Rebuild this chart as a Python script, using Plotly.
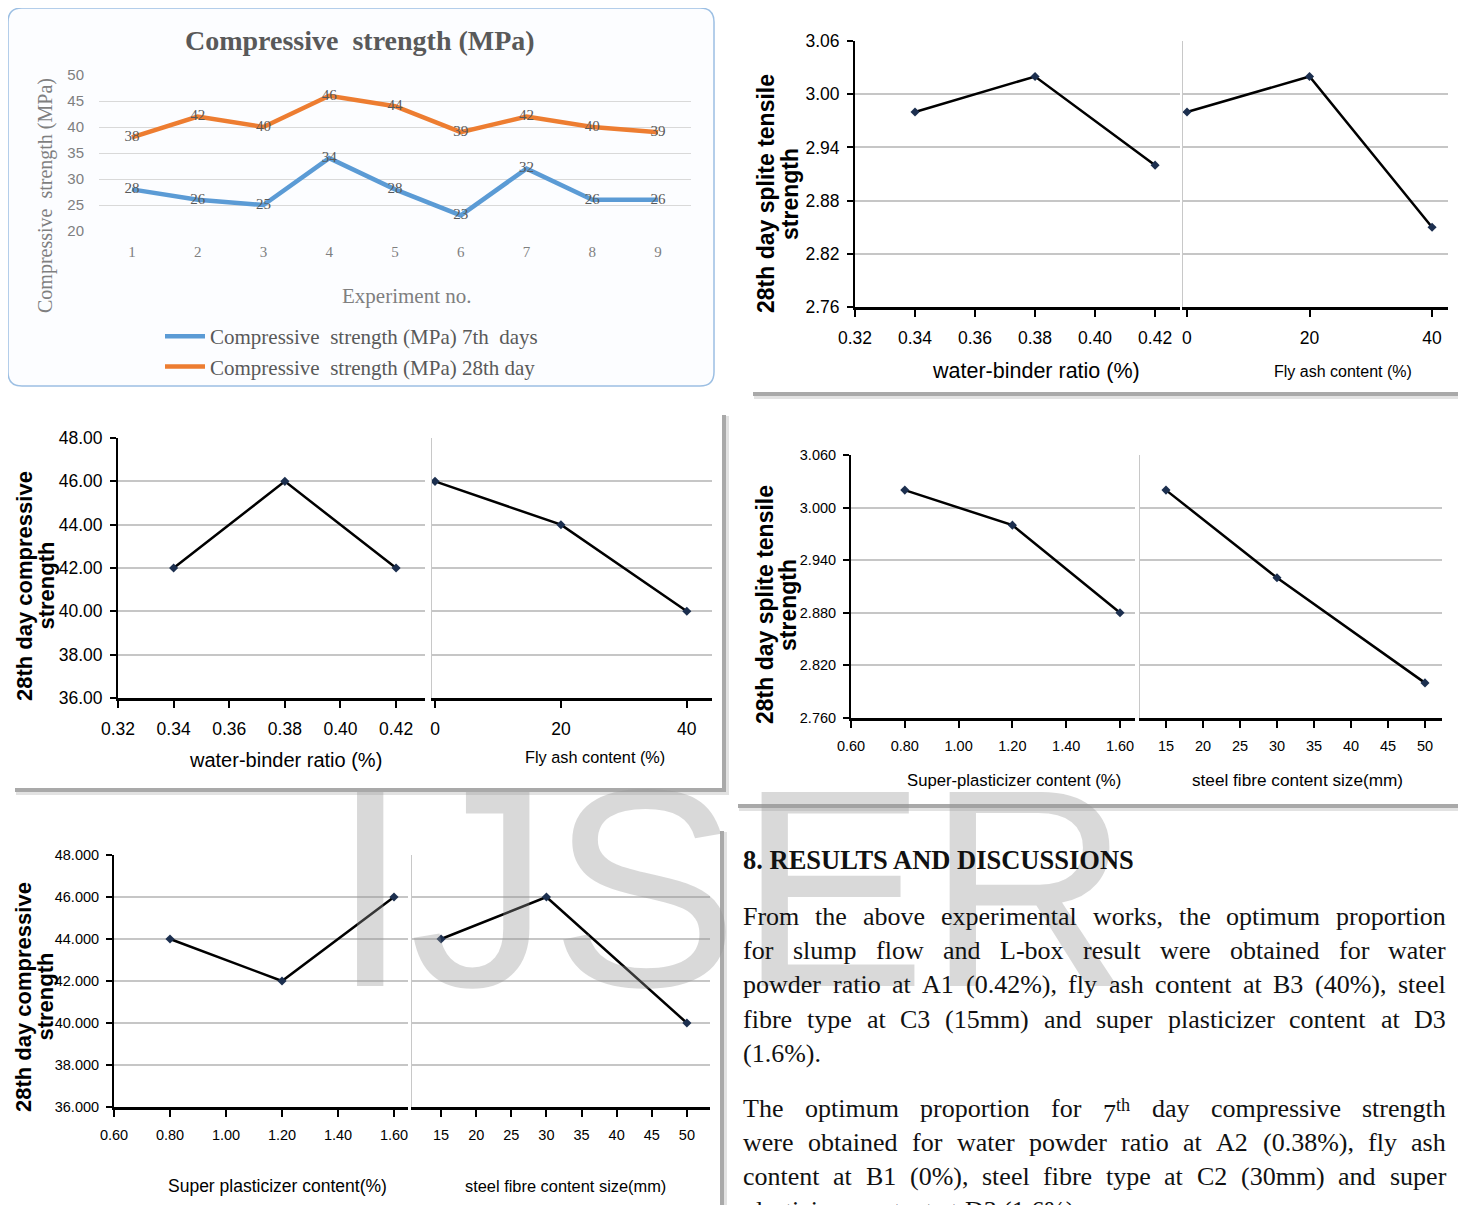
import plotly.graph_objects as go

W, H = 1466, 1205
OFF = 8  # the page body adds an 8px margin; reference pixel coords are shifted by it

# ---------------- data ----------------
experiments = [1, 2, 3, 4, 5, 6, 7, 8, 9]
cs_7day = [28, 26, 25, 34, 28, 23, 32, 26, 26]
cs_28day = [38, 42, 40, 46, 44, 39, 42, 40, 39]
cs_ticks = [20, 25, 30, 35, 40, 45, 50]

wb_ratio = [0.34, 0.38, 0.42]
wb_ticks = [0.32, 0.34, 0.36, 0.38, 0.40, 0.42]
flyash = [0, 20, 40]
flyash_ticks = [0, 20, 40]
sp_content = [0.80, 1.20, 1.60]
sp_ticks = [0.60, 0.80, 1.00, 1.20, 1.40, 1.60]
fibre_size = [15, 30, 50]
fibre_ticks = [15, 20, 25, 30, 35, 40, 45, 50]

tensile_wb = [2.98, 3.02, 2.92]
tensile_flyash = [2.98, 3.02, 2.85]
tensile_sp = [3.02, 2.98, 2.88]
tensile_fibre = [3.02, 2.92, 2.80]
tensile_ticks = [2.76, 2.82, 2.88, 2.94, 3.00, 3.06]

comp_wb = [42, 46, 42]
comp_flyash = [46, 44, 40]
comp_sp = [44, 42, 46]
comp_fibre = [44, 46, 40]
comp_ticks = [36, 38, 40, 42, 44, 46, 48]

heading = "8. RESULTS AND DISCUSSIONS"
para1_lines = [
    "From the above experimental works, the optimum proportion",
    "for slump flow and L-box result were obtained for water",
    "powder ratio at A1 (0.42%), fly ash content at B3 (40%), steel",
    "fibre type at C3 (15mm) and super plasticizer content at D3",
    "(1.6%).",
]
para2_lines = [
    "The optimum proportion for 7^th day compressive strength",
    "were obtained for water powder ratio at A2 (0.38%), fly ash",
    "content at B1 (0%), steel fibre type at C2 (30mm) and super",
    "plasticizer content at D3 (1.6%).",
]

# ---------------- helpers ----------------
SERIF = "Liberation Serif, Times New Roman, serif"
SANS = "Liberation Sans, Arial, sans-serif"


def px(x):
    return (x - OFF) / W


def py(y):
    return 1 - (y - OFF) / H


def xdom(a, b):
    return [px(a), px(b)]


def ydom(top, bot):
    return [py(bot), py(top)]


def ax(letter, n):
    return f"{letter}axis" if n == 1 else f"{letter}axis{n}"


def ref(letter, n):
    return letter if n == 1 else f"{letter}{n}"


fig = go.Figure()
layout = dict(
    width=W, height=H,
    margin=dict(l=0, r=0, t=0, b=0, autoexpand=False),
    paper_bgcolor="white",
    plot_bgcolor="rgba(0,0,0,0)",
    showlegend=True,
)
shapes = []
annotations = []

# watermark first (drawn below other annotations)
annotations.append(dict(
    text="IJSER", x=px(730), y=py(888), xref="paper", yref="paper",
    xanchor="center", yanchor="middle", showarrow=False,
    font=dict(family=SANS, size=282, color="rgba(150,150,150,0.36)"),
))

# ---------------- panel 1 ----------------
x0, y0, x1, y1, r = 8, 8, 714, 386, 14
rx, ry = r / W, r / H
X0, X1, YT, YB = px(x0), px(x1), py(y0), py(y1)
path = (f"M{X0+rx},{YT} L{X1-rx},{YT} Q{X1},{YT} {X1},{YT-ry} L{X1},{YB+ry} "
        f"Q{X1},{YB} {X1-rx},{YB} L{X0+rx},{YB} Q{X0},{YB} {X0},{YB+ry} "
        f"L{X0},{YT-ry} Q{X0},{YT} {X0+rx},{YT} Z")
shapes.append(dict(type="path", path=path, xref="paper", yref="paper",
                   fillcolor="#fcfdff", line=dict(color="#9cbfe3", width=1.5), layer="below"))

layout["xaxis"] = dict(domain=xdom(99, 691), range=[0.5, 9.5], anchor="y", automargin=False,
                       tickvals=experiments, ticktext=[str(v) for v in experiments],
                       showgrid=False, zeroline=False, showline=False, ticks="",
                       tickfont=dict(family=SERIF, size=15, color="#7f7f7f"),
                       ticklabelstandoff=10)
layout["yaxis"] = dict(domain=ydom(75, 231), range=[20, 50], anchor="x", automargin=False,
                       tickvals=cs_ticks, showgrid=True, gridcolor="#d9d9d9", gridwidth=1,
                       zeroline=False, showline=False, ticks="",
                       tickfont=dict(family=SANS, size=15, color="#7f7f7f"),
                       ticklabelstandoff=14)

fig.add_trace(go.Scatter(
    x=experiments, y=cs_7day, xaxis="x", yaxis="y", mode="lines+text",
    name="Compressive\u00a0 strength (MPa) 7th\u00a0 days",
    line=dict(color="#5b9bd5", width=4.5),
    text=[str(v) for v in cs_7day], textposition="middle center",
    textfont=dict(family=SERIF, size=15, color="#595959"), hoverinfo="skip"))
fig.add_trace(go.Scatter(
    x=experiments, y=cs_28day, xaxis="x", yaxis="y", mode="lines+text",
    name="Compressive\u00a0 strength (MPa) 28th day",
    line=dict(color="#ed7d31", width=4.5),
    text=[str(v) for v in cs_28day], textposition="middle center",
    textfont=dict(family=SERIF, size=15, color="#595959"), hoverinfo="skip"))

layout["legend"] = dict(x=px(160), y=py(316), xanchor="left", yanchor="top",
                        bgcolor="rgba(0,0,0,0)", font=dict(family=SERIF, size=21, color="#595959"),
                        itemwidth=40, tracegroupgap=0)

annotations += [
    dict(text="<b>Compressive\u00a0 strength (MPa)</b>", x=px(360), y=py(40),
         font=dict(family=SERIF, size=28, color="#595959")),
    dict(text="Compressive\u00a0 strength (MPa)", x=px(45), y=py(196), textangle=-90,
         font=dict(family=SERIF, size=20, color="#7f7f7f")),
    dict(text="Experiment no.", x=px(406), y=py(296),
         font=dict(family=SERIF, size=21, color="#7f7f7f")),
]


# ---------------- panels 2-5 ----------------
def panel_box(x0, y0, x1, y1):
    shapes.append(dict(type="rect", xref="paper", yref="paper", x0=px(x0 + 2), x1=px(x1 + 7),
                       y0=py(y1 + 7), y1=py(y0 + 2), fillcolor="#e2e2e2", line_width=0, layer="below"))
    shapes.append(dict(type="rect", xref="paper", yref="paper", x0=px(x0 + 1), x1=px(x1 + 4),
                       y0=py(y1 + 4), y1=py(y0 + 1), fillcolor="#a9a9a9", line_width=0, layer="below"))
    shapes.append(dict(type="rect", xref="paper", yref="paper", x0=px(x0), x1=px(x1),
                       y0=py(y1), y1=py(y0), fillcolor="white", line_width=0, layer="below"))


def fmt(vals, f):
    return [f.format(v) for v in vals]


def chart_pair(nl, nr, dl, dr, dy, rl, rr, tl, tl_fmt, tr, yt, yt_fmt,
               xl_data, yl_data, xr_data, yr_data, fs=17):
    eps = (max(yt) - min(yt)) * 2e-4
    yr_ = [min(yt) - eps, max(yt) + eps]
    tickfont = dict(family=SANS, size=fs, color="black")
    layout[ax("x", nl)] = dict(domain=xdom(*dl), range=rl, anchor=ref("y", nl), automargin=False,
                               tickvals=tl, ticktext=fmt(tl, tl_fmt),
                               showline=True, linecolor="black", linewidth=3,
                               ticks="outside", ticklen=7, tickwidth=2, tickcolor="black",
                               showgrid=False, zeroline=False, tickfont=tickfont,
                               ticklabelstandoff=6)
    layout[ax("y", nl)] = dict(domain=ydom(*dy), range=yr_, anchor=ref("x", nl), automargin=False,
                               tickvals=yt, ticktext=fmt(yt, yt_fmt),
                               showline=True, linecolor="black", linewidth=2,
                               ticks="outside", ticklen=6, tickwidth=2, tickcolor="black",
                               showgrid=True, gridcolor="#c6c6c6", gridwidth=2,
                               zeroline=False, tickfont=tickfont, ticklabelstandoff=4)
    layout[ax("x", nr)] = dict(domain=xdom(*dr), range=rr, anchor=ref("y", nr), automargin=False,
                               tickvals=tr, ticktext=[str(v) for v in tr],
                               showline=True, linecolor="black", linewidth=3,
                               ticks="outside", ticklen=7, tickwidth=2, tickcolor="black",
                               showgrid=False, zeroline=False, tickfont=tickfont,
                               ticklabelstandoff=6)
    layout[ax("y", nr)] = dict(domain=ydom(*dy), range=yr_, anchor=ref("x", nr), automargin=False,
                               tickvals=yt, showticklabels=False,
                               showline=True, linecolor="#c8c8c8", linewidth=1, ticks="",
                               showgrid=True, gridcolor="#c6c6c6", gridwidth=2, zeroline=False)
    for n, xs, ys in ((nl, xl_data, yl_data), (nr, xr_data, yr_data)):
        fig.add_trace(go.Scatter(
            x=xs, y=ys, xaxis=ref("x", n), yaxis=ref("y", n), mode="lines+markers",
            line=dict(color="black", width=2.5),
            marker=dict(symbol="diamond", size=7, color="#1c2f4f"),
            showlegend=False, hoverinfo="skip"))


def ytitle(line1, line2, x_a, x_b, yc, size=23):
    annotations.append(dict(text=f"<b>{line1}</b>", x=px(x_a), y=py(yc), textangle=-90,
                            font=dict(family=SANS, size=size, color="black")))
    annotations.append(dict(text=f"<b>{line2}</b>", x=px(x_b), y=py(yc), textangle=-90,
                            font=dict(family=SANS, size=size, color="black")))


def xtitle(text, xc, yc, size):
    annotations.append(dict(text=text, x=px(xc), y=py(yc),
                            font=dict(family=SANS, size=size, color="black")))


# panel 2: tensile vs w/b and fly ash
panel_box(752, 16, 1458, 392)
chart_pair(2, 3, (855, 1180), (1183, 1448), (41, 307),
           [0.32, 0.4283], [-0.65, 42.6], wb_ticks, "{:.2f}", flyash_ticks,
           tensile_ticks, "{:.2f}", wb_ratio, tensile_wb, flyash, tensile_flyash, fs=17.5)
ytitle("28th day splite tensile", "strength", 766, 790, 194)
xtitle("water-binder ratio (%)", 1036, 371, 21.5)
xtitle("Fly ash content (%)", 1343, 371, 16)

# panel 3: compressive vs w/b and fly ash
panel_box(14, 414, 722, 788)
chart_pair(4, 5, (118, 425), (432, 712), (438, 698),
           [0.32, 0.4304], [-0.48, 44.0], wb_ticks, "{:.2f}", flyash_ticks,
           comp_ticks, "{:.2f}", wb_ratio, comp_wb, flyash, comp_flyash, fs=17.5)
ytitle("28th day compressive", "strength", 24, 45.5, 586, size=22)
xtitle("water-binder ratio (%)", 285, 760, 20)
xtitle("Fly ash content (%)", 595, 757, 16.3)

# panel 4: tensile vs SP and fibre
panel_box(737, 437, 1458, 804)
chart_pair(6, 7, (851, 1135), (1140, 1442), (455, 718),
           [0.60, 1.6558], [11.49, 52.3], sp_ticks, "{:.2f}", fibre_ticks,
           tensile_ticks, "{:.3f}", sp_content, tensile_sp, fibre_size, tensile_fibre, fs=14.5)
ytitle("28th day splite tensile", "strength", 765, 788, 605)
xtitle("Super-plasticizer content (%)", 1014, 780, 16.7)
xtitle("steel fibre content size(mm)", 1297, 780, 17.2)

# panel 5: compressive vs SP and fibre
panel_box(14, 830, 720, 1215)
chart_pair(8, 9, (114, 408), (412, 710), (855, 1107),
           [0.60, 1.65], [10.86, 53.29], sp_ticks, "{:.2f}", fibre_ticks,
           comp_ticks, "{:.3f}", sp_content, comp_sp, fibre_size, comp_fibre, fs=14.5)
ytitle("28th day compressive", "strength", 23, 44.5, 997, size=22)
xtitle("Super plasticizer content(%)", 277, 1186, 17.5)
xtitle("steel fibre content size(mm)", 565, 1186, 16.4)

# ---------------- text block ----------------
TIMES = dict(zip("abcdefghijklmnopqrstuvwxyz",
                 [444, 500, 444, 500, 444, 333, 500, 500, 278, 278, 500, 278, 778,
                  500, 500, 500, 500, 333, 389, 278, 500, 500, 722, 500, 500, 444]))
TIMES.update(dict(zip("ABCDEFGHIJKLMNOPQRSTUVWXYZ",
                      [722, 667, 667, 722, 611, 556, 722, 722, 333, 389, 722, 611, 889,
                       722, 722, 556, 722, 667, 556, 611, 722, 722, 944, 722, 722, 611])))
TIMES.update({d: 500 for d in "0123456789"})
TIMES.update({" ": 250, ".": 250, ",": 250, "(": 333, ")": 333, "%": 833, "-": 333})
BODY = 26
LEFT, RIGHT = 743, 1446


def word_width(w):
    if "^" in w:
        b, s = w.split("^")
        return (sum(TIMES.get(c, 500) for c in b) + 0.7 * sum(TIMES.get(c, 500) for c in s)) / 1000 * BODY
    return sum(TIMES.get(c, 500) for c in w) / 1000 * BODY


def word_html(w):
    if "^" in w:
        b, s = w.split("^")
        return f"{b}<sup>{s}</sup>"
    return w


def place_para(lines, ytop, step):
    for i, line in enumerate(lines):
        words = line.split(" ")
        widths = [word_width(w) for w in words]
        last = i == len(lines) - 1
        if last or len(words) == 1:
            gap = TIMES[" "] / 1000 * BODY
        else:
            gap = (RIGHT - LEFT - sum(widths)) / (len(words) - 1)
        xcur = LEFT
        yc = ytop + i * step
        for w, wd in zip(words, widths):
            annotations.append(dict(
                text=word_html(w), x=px(xcur), y=py(yc), xanchor="left", yanchor="middle",
                font=dict(family=SERIF, size=BODY, color="#111111"),
                yshift=(-3 if "^" in w else 0)))
            xcur += wd + gap


annotations.append(dict(text=f"<b>{heading}</b>", x=px(LEFT), y=py(860), xanchor="left",
                        font=dict(family=SERIF, size=26.5, color="#111111")))
place_para(para1_lines, 916.5, 34.2)
place_para(para2_lines, 1108, 34.2)

# defaults for annotations
for a in annotations:
    a.setdefault("xref", "paper")
    a.setdefault("yref", "paper")
    a.setdefault("showarrow", False)
    a.setdefault("xanchor", "center")
    a.setdefault("yanchor", "middle")
    a.setdefault("borderpad", 0)
    a.setdefault("borderwidth", 0)

layout["shapes"] = shapes
layout["annotations"] = annotations
fig.update_layout(**layout)
fig.write_html("out.html")
